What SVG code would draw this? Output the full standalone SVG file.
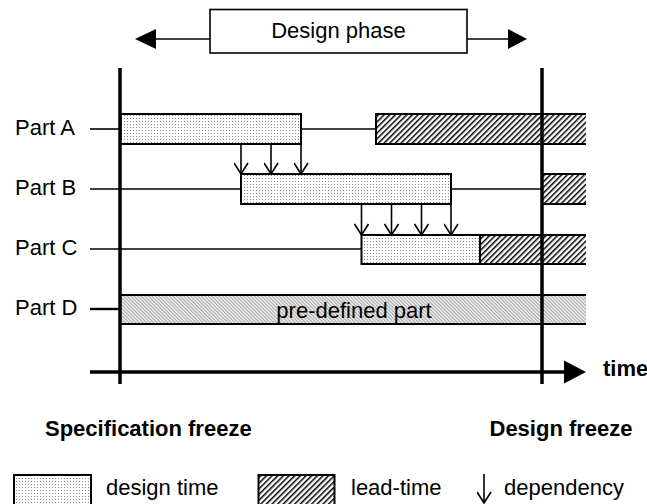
<svg xmlns="http://www.w3.org/2000/svg" width="647" height="504" viewBox="0 0 647 504">
<defs>
  <pattern id="dots" width="3" height="3" patternUnits="userSpaceOnUse">
    <rect width="3" height="3" fill="#ffffff"/>
    <rect x="1" y="1" width="1" height="1" fill="#8a8a8a"/>
  </pattern>
  <pattern id="hatch" width="4" height="4" patternUnits="userSpaceOnUse" patternTransform="rotate(45)">
    <rect width="4" height="4" fill="#ffffff"/>
    <rect x="0" y="0" width="1.5" height="4" fill="#000000"/>
  </pattern>
  <pattern id="fine" width="2.5" height="2.5" patternUnits="userSpaceOnUse" patternTransform="rotate(-45)">
    <rect width="2.5" height="2.5" fill="#e8e8e8"/>
    <rect x="0" y="0" width="0.9" height="2.5" fill="#a8a8a8"/>
  </pattern>
  <marker id="vhead" markerWidth="16" markerHeight="14" refX="7.5" refY="12" orient="0" markerUnits="userSpaceOnUse">
    <path d="M0.5,1 L7.5,12 L14.5,1" fill="none" stroke="#000" stroke-width="1.6"/>
  </marker>
</defs>
<style>
  text { font-family: "Liberation Sans", Arial, sans-serif; font-size: 22px; fill: #000; }
  .b { font-weight: bold; }
  .design { fill: url(#dots); stroke: #000; stroke-width: 2; }
  .lead { fill: url(#hatch); }
  .edge { fill: none; stroke: #000; stroke-width: 2; }
  .row { stroke: #000; stroke-width: 1.6; fill: none; }
  .thick { stroke: #000; stroke-width: 3.5; fill: none; }
  .dep { stroke: #000; stroke-width: 1.6; fill: none; marker-end: url(#vhead); }
</style>

<g id="design-phase">
  <rect x="210" y="9.5" width="257" height="43.5" fill="#fff" stroke="#000" stroke-width="1.6"/>
  <text x="338.5" y="38" text-anchor="middle">Design phase</text>
  <line x1="156" y1="39" x2="210" y2="39" class="row"/>
  <polygon points="135,39 156,29 156,49" fill="#000"/>
  <line x1="467" y1="39" x2="508" y2="39" class="row"/>
  <polygon points="527,39 508,29 508,49" fill="#000"/>
</g>

<g id="part-d">
  <text x="15" y="315">Part D</text>
  <line x1="90" y1="309" x2="120" y2="309" stroke="#000" stroke-width="2.4"/>
  <rect x="120" y="295" width="466" height="29" fill="url(#fine)"/>
  <line x1="120" y1="295" x2="586" y2="295" class="edge"/>
  <line x1="120" y1="324" x2="586" y2="324" class="edge"/>
  <text x="354" y="318" text-anchor="middle">pre-defined part</text>
</g>

<g id="part-a">
  <text x="15" y="135">Part A</text>
  <line x1="90" y1="129" x2="120" y2="129" class="row"/>
  <rect x="120.5" y="114" width="180.5" height="30" class="design"/>
  <line x1="301" y1="129" x2="376" y2="129" class="row"/>
  <rect x="376" y="114" width="210" height="30" class="lead"/>
  <path d="M586,114 H376 V144 H586" class="edge"/>
</g>

<g id="part-b">
  <text x="15" y="195">Part B</text>
  <line x1="90" y1="189" x2="241" y2="189" class="row"/>
  <rect x="241" y="174" width="210" height="30" class="design"/>
  <line x1="451" y1="189" x2="542" y2="189" class="row"/>
  <rect x="542" y="174" width="44" height="30" class="lead"/>
  <path d="M586,174 H542 V204 H586" class="edge"/>
</g>

<g id="part-c">
  <text x="15" y="255">Part C</text>
  <line x1="90" y1="249" x2="361.5" y2="249" class="row"/>
  <rect x="361.5" y="235" width="118.5" height="29" class="design"/>
  <rect x="480" y="235" width="106" height="29" class="lead"/>
  <path d="M586,235 H480 V264 H586" class="edge"/>
</g>

<g id="timeline">
  <line x1="120" y1="68" x2="120" y2="384" class="thick"/>
  <line x1="542" y1="68" x2="542" y2="384" class="thick"/>
  <line x1="90" y1="372" x2="566" y2="372" class="thick"/>
  <polygon points="586,372 564,360.5 564,383.5" fill="#000"/>
  <text x="603" y="376" class="b">time</text>
</g>

<g id="milestones">
  <text x="45" y="436" class="b">Specification freeze</text>
  <text x="489.5" y="436" class="b">Design freeze</text>
</g>

<g id="connectors">
  <line x1="241" y1="144" x2="241" y2="174" class="dep"/>
  <line x1="271" y1="144" x2="271" y2="174" class="dep"/>
  <line x1="301" y1="144" x2="301" y2="174" class="dep"/>
  <line x1="361.5" y1="204" x2="361.5" y2="235" class="dep"/>
  <line x1="391.5" y1="204" x2="391.5" y2="235" class="dep"/>
  <line x1="421.5" y1="204" x2="421.5" y2="235" class="dep"/>
  <line x1="451" y1="204" x2="451" y2="235" class="dep"/>
</g>

<g id="legend">
  <rect x="14" y="475" width="77" height="32" class="design"/>
  <text x="106" y="495">design time</text>
  <rect x="258.5" y="475" width="76" height="32" fill="url(#hatch)" stroke="#000" stroke-width="2"/>
  <text x="351" y="495">lead-time</text>
  <line x1="484" y1="474" x2="484" y2="503" class="dep"/>
  <text x="504" y="495">dependency</text>
</g>
</svg>
